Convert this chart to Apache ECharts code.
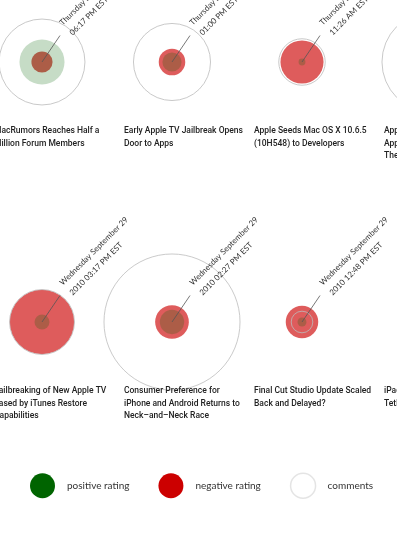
<!DOCTYPE html>
<html><head><meta charset="utf-8">
<script src="https://cdn.jsdelivr.net/npm/echarts@6/dist/echarts.min.js"></script>
<style>html,body{margin:0;padding:0;background:#fff}#c{width:397px;height:541px}</style>
</head><body><div id="c"></div>
<script>
// ---- data ----
const titles = [
  "MacRumors Reaches Half a\nMillion Forum Members",
  "Early Apple TV Jailbreak Opens\nDoor to Apps",
  "Apple Seeds Mac OS X 10.6.5\n(10H548) to Developers",
  "Apple Updates Remote\nApp for iOS 4 With\nThe New Apple TV Support",
  "Jailbreaking of New Apple TV\nEased by iTunes Restore\nCapabilities",
  "Consumer Preference for\niPhone and Android Returns to\nNeck\u2013and\u2013Neck Race",
  "Final Cut Studio Update Scaled\nBack and Delayed?",
  "iPad Gets Official 3G\nTethering Support"
];
const dates = [
  "Thursday September 30 2010\n06:17 PM EST",
  "Thursday September 30 2010\n01:00 PM EST",
  "Thursday September 30 2010\n11:26 AM EST",
  "Thursday September 30 2010\n09:42 AM EST",
  "Wednesday September 29\n2010 03:17 PM EST",
  "Wednesday September 29\n2010 02:27 PM EST",
  "Wednesday September 29\n2010 12:48 PM EST",
  "Wednesday September 29\n2010 11:05 AM EST"
];
const positive = [127, 23, 3, 30, 14, 37, 5, 20];
const negative = [28, 44, 116, 15, 261, 71, 66, 25];
const comments = [205, 165, 60, 278, 117, 514, 13, 80];
const legendLabels = ["positive rating", "negative rating", "comments"];
const COLS = 4;

// ---- helpers ----
const pos = i => [i % COLS, Math.floor(i / COLS)];
const ratingSize = v => 4 * Math.sqrt(v);
const commentSize = v => 6 * Math.sqrt(v);
const pts = vals => vals.map((v, i) => pos(i).concat([v]));

const chart = echarts.init(document.getElementById('c'), null, {renderer: 'canvas'});
const option = {
  animation: false,
  backgroundColor: '#fff',
  grid: {left: 0, right: 0, top: 0, bottom: 0},
  xAxis: {type: 'value', min: -42 / 130, max: 355 / 130, show: false},
  yAxis: {type: 'value', inverse: true, min: -62 / 260, max: 479 / 260, show: false},
  legend: {
    left: 30, top: 472.5, orient: 'horizontal', padding: 0,
    itemWidth: 25, itemHeight: 25, itemGap: 29, icon: 'circle',
    textStyle: {fontFamily: 'Lato', fontSize: 10, color: '#333', padding: [0, 0, 0, 7]},
    selectedMode: false,
    data: [
      {name: legendLabels[0], itemStyle: {color: '#006400', opacity: 1, borderWidth: 0}},
      {name: legendLabels[1], itemStyle: {color: '#cc0000', opacity: 1, borderWidth: 0}},
      {name: legendLabels[2], itemStyle: {color: '#ffffff', borderColor: '#dddddd', borderWidth: 1.5}}
    ]
  },
  series: [
    {
      name: legendLabels[1], type: 'scatter', clip: false, z: 1, silent: true,
      data: pts(negative), symbolSize: d => ratingSize(d[2]),
      itemStyle: {color: 'rgba(204,0,0,0.8)'}
    },
    {
      name: legendLabels[0], type: 'scatter', clip: false, z: 2, silent: true,
      data: pts(positive), symbolSize: d => ratingSize(d[2]),
      itemStyle: {color: 'rgba(0,100,0,0.28)'}
    },
    {
      name: legendLabels[2], type: 'scatter', clip: false, z: 3, silent: true,
      data: pts(comments), symbolSize: d => commentSize(d[2]),
      itemStyle: {color: 'rgba(255,255,255,0)', borderColor: '#bcbcbc', borderWidth: 1}
    },
    {
      type: 'custom', clip: false, z: 4, silent: true,
      data: titles.map((t, i) => pos(i).concat([i])),
      renderItem: function (params, api) {
        const i = api.value(2);
        const c = api.coord([api.value(0), api.value(1)]);
        return {
          type: 'group',
          children: [
            {type: 'line', shape: {x1: c[0], y1: c[1], x2: c[0] + 18, y2: c[1] - 26.5},
             style: {stroke: '#555', lineWidth: 0.8}},
            {type: 'text', x: c[0] + 24, y: c[1] - 33, rotation: Math.PI / 4,
             style: {text: dates[i], fill: '#333', fontSize: 8, fontFamily: 'Lato',
                     lineHeight: 14, align: 'left', verticalAlign: 'middle'}},
            {type: 'text', x: c[0] - 48, y: c[1] + 63,
             style: {text: titles[i], fill: '#222', fontSize: 8.5, fontWeight: 500, fontFamily: 'Roboto',
                     lineHeight: 12.5, align: 'left', verticalAlign: 'top'}}
          ]
        };
      }
    }
  ]
};
chart.setOption(option);
</script>
</body></html>
